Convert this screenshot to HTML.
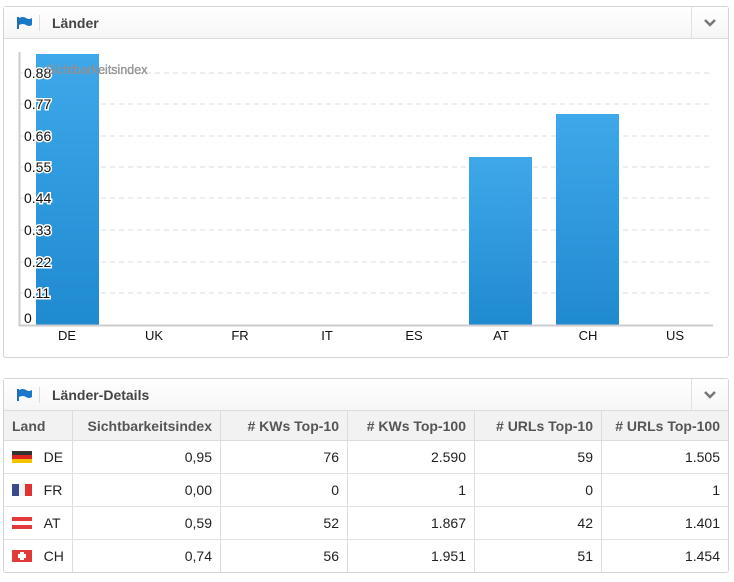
<!DOCTYPE html><html><head><meta charset="utf-8"><style>
body{margin:0;width:734px;height:582px;background:#fff;font-family:"Liberation Sans",sans-serif;position:relative;overflow:hidden}
.panel{position:absolute;left:3px;width:724px;border:1px solid #d4d4d4;border-radius:3px;background:#fff}
.hdr{height:31px;border-bottom:1px solid #dcdcdc;background:linear-gradient(#fff,#f6f6f6);position:relative}
.hdr .t{position:absolute;left:48px;top:8px;font-size:14px;font-weight:bold;color:#444}
.hdr .sep{position:absolute;left:35px;top:8px;width:1px;height:16px;background:#ddd}
.hdr .flag{position:absolute;left:13px;top:10px}
.hdr .chev{position:absolute;right:0;top:0;width:36px;height:31px;border-left:1px solid #e0e0e0}
table{border-collapse:collapse;position:absolute;left:0;top:32px;width:724px;font-size:14px}
th{background:#f2f2f2;color:#555;font-weight:bold;height:29px;text-align:right;padding:0 8px;border-right:1px solid #ddd;border-bottom:1px solid #ddd}
td{height:32px;text-align:right;padding:0 8px;border-right:1px solid #ddd;border-bottom:1px solid #e2e2e2;color:#222}
th:last-child,td:last-child{border-right:none}
tr:last-child td{border-bottom:none}
</style></head><body>
<div class="panel" style="top:6px;height:350px">
<div class="hdr"><svg class="flag" width="16" height="12"><rect x="0" y="0" width="2" height="12" fill="#1a6fb5"/><path d="M2 1 Q6 -1 9 1 T15 1 V8 Q12 10 9 8 T2 8Z" fill="#1a78c8"/></svg><div class="sep"></div><div class="t">Länder</div><div class="chev"><svg width="36" height="31"><path d="M13 13 L18 18 L23 13" stroke="#777" stroke-width="2.5" fill="none"/></svg></div></div>
</div>
<svg style="position:absolute;left:0;top:0" width="734" height="360" font-family="Liberation Sans,sans-serif">
<defs><linearGradient id="g" x1="0" y1="0" x2="0" y2="1"><stop offset="0" stop-color="#3ea8ea"/><stop offset="1" stop-color="#1f8ad0"/></linearGradient></defs>
<g stroke="#ddd" stroke-dasharray="5,4">
<line x1="20" x2="713" y1="73" y2="73"/><line x1="20" x2="713" y1="104" y2="104"/><line x1="20" x2="713" y1="136" y2="136"/><line x1="20" x2="713" y1="167" y2="167"/><line x1="20" x2="713" y1="198" y2="198"/><line x1="20" x2="713" y1="230" y2="230"/><line x1="20" x2="713" y1="262" y2="262"/><line x1="20" x2="713" y1="293" y2="293"/></g>
<rect x="36" y="54" width="63" height="271" fill="url(#g)"/>
<rect x="469" y="157" width="63" height="168" fill="url(#g)"/>
<rect x="556" y="114" width="63" height="211" fill="url(#g)"/>
<line x1="19.5" y1="52" x2="19.5" y2="326" stroke="#ccc" stroke-width="2"/>
<line x1="19" y1="325.5" x2="713" y2="325.5" stroke="#ccc" stroke-width="2"/>
<g font-size="14" fill="#111" stroke="#fff" stroke-width="3" paint-order="stroke">
<text x="24" y="78">0.88</text><text x="24" y="109">0.77</text><text x="24" y="141">0.66</text><text x="24" y="172">0.55</text><text x="24" y="203">0.44</text><text x="24" y="235">0.33</text><text x="24" y="267">0.22</text><text x="24" y="298">0.11</text><text x="24" y="323">0</text></g>
<text x="46" y="74" font-size="12.5" fill="#999" stroke="#888" stroke-width="0.3">Sichtbarkeitsindex</text>
<g font-size="13" fill="#111" text-anchor="middle"><text x="67" y="340">DE</text><text x="154" y="340">UK</text><text x="240" y="340">FR</text><text x="327" y="340">IT</text><text x="414" y="340">ES</text><text x="501" y="340">AT</text><text x="588" y="340">CH</text><text x="675" y="340">US</text></g>
</svg>
<div class="panel" style="top:378px;height:193px">
<div class="hdr"><svg class="flag" width="16" height="12"><rect x="0" y="0" width="2" height="12" fill="#1a6fb5"/><path d="M2 1 Q6 -1 9 1 T15 1 V8 Q12 10 9 8 T2 8Z" fill="#1a78c8"/></svg><div class="sep"></div><div class="t">Länder-Details</div><div class="chev"><svg width="36" height="31"><path d="M13 13 L18 18 L23 13" stroke="#777" stroke-width="2.5" fill="none"/></svg></div></div>
<table>
<tr><th style="text-align:left;width:52px">Land</th><th style="width:131px">Sichtbarkeitsindex</th><th style="width:110px"># KWs Top-10</th><th style="width:110px"># KWs Top-100</th><th style="width:110px"># URLs Top-10</th><th># URLs Top-100</th></tr>
<tr><td style="text-align:left"><svg width="20" height="12" style="vertical-align:-1px"><rect width="20" height="4" fill="#333"/><rect y="4" width="20" height="4" fill="#d22"/><rect y="8" width="20" height="4" fill="#f2c200"/></svg>&nbsp;&nbsp;&nbsp;DE</td><td>0,95</td><td>76</td><td>2.590</td><td>59</td><td>1.505</td></tr>
<tr><td style="text-align:left"><svg width="20" height="12" style="vertical-align:-1px"><rect width="7" height="12" fill="#3a4a8a"/><rect x="7" width="6" height="12" fill="#f4f4f4"/><rect x="13" width="7" height="12" fill="#d33"/></svg>&nbsp;&nbsp;&nbsp;FR</td><td>0,00</td><td>0</td><td>1</td><td>0</td><td>1</td></tr>
<tr><td style="text-align:left"><svg width="20" height="12" style="vertical-align:-1px"><rect width="20" height="12" fill="#e03a3a"/><rect y="4" width="20" height="4" fill="#fff"/></svg>&nbsp;&nbsp;&nbsp;AT</td><td>0,59</td><td>52</td><td>1.867</td><td>42</td><td>1.401</td></tr>
<tr><td style="text-align:left"><svg width="20" height="12" style="vertical-align:-1px"><rect width="20" height="12" fill="#e03a3a"/><rect x="8" y="2" width="4" height="8" fill="#fff"/><rect x="6" y="4" width="8" height="4" fill="#fff"/></svg>&nbsp;&nbsp;&nbsp;CH</td><td>0,74</td><td>56</td><td>1.951</td><td>51</td><td>1.454</td></tr>
</table></div>
</body></html>
